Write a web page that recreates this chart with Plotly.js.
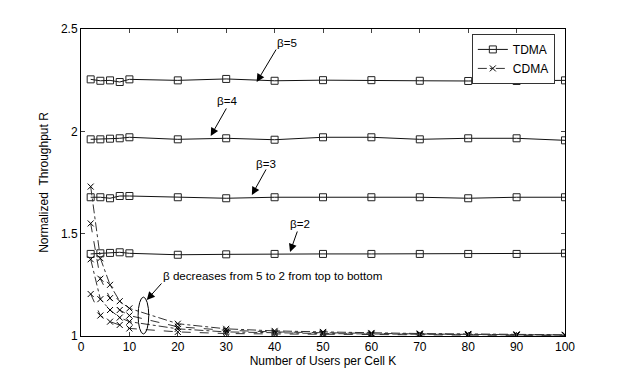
<!DOCTYPE html>
<html><head><meta charset="utf-8">
<script src="https://cdn.plot.ly/plotly-3.0.1.min.js"></script>
<style>body{margin:0;background:#fff}#c{width:623px;height:379px}</style>
</head><body><div id="c"></div>
<script>
const users = [2,4,6,8,10,20,30,40,50,60,70,80,90,100];
const tdmaB5 = [2.254,2.247,2.249,2.241,2.254,2.249,2.256,2.247,2.250,2.250,2.247,2.246,2.246,2.249];
const tdmaB4 = [1.961,1.961,1.964,1.966,1.971,1.961,1.966,1.959,1.971,1.971,1.961,1.966,1.966,1.956];
const tdmaB3 = [1.678,1.678,1.673,1.684,1.684,1.678,1.673,1.678,1.678,1.678,1.678,1.673,1.678,1.678];
const tdmaB2 = [1.401,1.404,1.406,1.409,1.404,1.397,1.399,1.401,1.401,1.401,1.401,1.401,1.401,1.404];
const cdmaB5 = [1.73,1.38,1.25,1.17,1.135,1.06,1.035,1.025,1.02,1.015,1.012,1.01,1.008,1.006];
const cdmaB4 = [1.55,1.28,1.185,1.127,1.10,1.045,1.028,1.02,1.016,1.012,1.01,1.008,1.006,1.005];
const cdmaB3 = [1.375,1.18,1.127,1.09,1.07,1.035,1.02,1.015,1.012,1.01,1.008,1.006,1.005,1.004];
const cdmaB2 = [1.205,1.10,1.07,1.054,1.037,1.02,1.012,1.01,1.008,1.006,1.005,1.004,1.003,1.003];
const xTicks = [0,10,20,30,40,50,60,70,80,90,100];
const yTicks = [1,1.5,2,2.5];
const yTickText = ['1','1.5','2','2.5'];

const font = {family:'Liberation Sans, Arial, sans-serif', size:12, color:'#000'};
const afont = {family:'Liberation Sans, Arial, sans-serif', size:11.6, color:'#000'};
const traces = [];
[tdmaB5,tdmaB4,tdmaB3,tdmaB2].forEach((y,i)=>{
  traces.push({x:users,y:y,type:'scatter',mode:'lines+markers',name:'TDMA',showlegend:i===0,
    line:{color:'#111',width:1},marker:{symbol:'square-open',size:7,color:'#222',line:{width:1}}});
});
[cdmaB5,cdmaB4,cdmaB3,cdmaB2].forEach((y,i)=>{
  traces.push({x:users,y:y,type:'scatter',mode:'lines+markers',name:'CDMA',showlegend:i===0,
    line:{color:'#333',width:1,dash:(i%2===0?'dashdot':'dash')},marker:{symbol:'x-thin-open',size:6,color:'#000',line:{width:1,color:'#000'}}});
});

const labels = [
  {t:'β=5', x:42.6, y:2.436, tx:40.5, ty:2.407, hx:36.3, hy:2.241},
  {t:'β=4', x:30.2, y:2.153, tx:30.2, ty:2.119, hx:26.8, hy:1.977},
  {t:'β=3', x:38.2, y:1.845, tx:38.4, ty:1.821, hx:35.3, hy:1.689},
  {t:'β=2', x:45.2, y:1.552, tx:44.8, ty:1.518, hx:43.2, hy:1.411}
];
const annotations = [];
labels.forEach(l=>{
  annotations.push({x:l.x,y:l.y,xref:'x',yref:'y',text:l.t,showarrow:false,font:afont});
  annotations.push({x:l.hx,y:l.hy,ax:l.tx,ay:l.ty,xref:'x',yref:'y',axref:'x',ayref:'y',text:'',
    showarrow:true,arrowhead:2,arrowsize:1.6,arrowwidth:1,arrowcolor:'#000'});
});
annotations.push({x:16.5,y:1.298,xref:'x',yref:'y',xanchor:'left',text:'β decreases from 5 to 2 from top to bottom',showarrow:false,font:afont});
annotations.push({x:13.6,y:1.176,ax:16.9,ay:1.264,xref:'x',yref:'y',axref:'x',ayref:'y',text:'',
  showarrow:true,arrowhead:2,arrowsize:1.6,arrowwidth:1,arrowcolor:'#000'});

const layout = {
  width:623,height:379,
  margin:{l:81,r:58,t:29,b:43},
  paper_bgcolor:'#fff',plot_bgcolor:'#fff',
  font:font,
  showlegend:true,
  legend:{x:0.979,y:0.984,xanchor:'right',yanchor:'top',bgcolor:'#fff',bordercolor:'#333',borderwidth:1,font:font,tracegroupgap:0},
  xaxis:{range:[0,100],tickvals:xTicks,ticks:'inside',ticklen:4,mirror:'ticks',showline:true,linecolor:'#000',linewidth:1,
    showgrid:false,zeroline:false,tickfont:font,title:{text:'Number of Users per Cell K',font:font,standoff:3}},
  yaxis:{range:[1,2.5],tickvals:yTicks,ticktext:yTickText,ticks:'inside',ticklen:4,mirror:'ticks',showline:true,linecolor:'#000',linewidth:1,
    showgrid:false,zeroline:false,tickfont:font,title:{text:'Normalized\u00a0\u00a0Throughput R',font:font,standoff:9}},
  shapes:[{type:'circle',xref:'x',yref:'y',x0:11.8,x1:14.0,y0:1.01,y1:1.19,line:{color:'#000',width:1}}],
  annotations:annotations
};
Plotly.newPlot('c',traces,layout,{displayModeBar:false,staticPlot:true});
</script></body></html>
